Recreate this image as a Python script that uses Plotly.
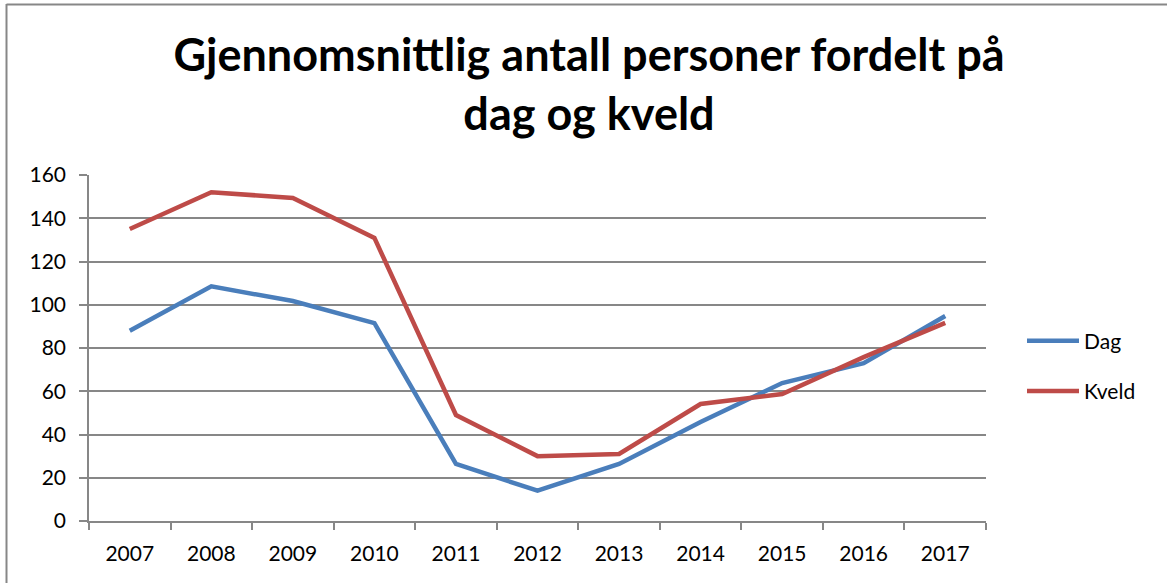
import plotly.graph_objects as go

years = ["2007", "2008", "2009", "2010", "2011", "2012", "2013", "2014", "2015", "2016", "2017"]
dag = [88, 108.5, 101.7, 91.5, 26.4, 14, 26.4, 45.8, 63.8, 73, 94.8]
kveld = [135, 152, 149.4, 130.9, 49, 30, 31, 54.1, 58.7, 75.8, 91.6]
y_ticks = [0, 20, 40, 60, 80, 100, 120, 140, 160]

W, H = 1167, 583
L, R, T, B = 89, 986, 175, 521
grid = "#878787"
font = "Lato"
fs = 21

fig = go.Figure()
fig.add_trace(go.Scatter(x=years, y=dag, mode="lines", name="Dag", legendgroup="a",
                         line=dict(color="#4A7EBB", width=4.5)))
fig.add_trace(go.Scatter(x=years, y=kveld, mode="lines", name="Kveld", legendgroup="b",
                         line=dict(color="#BE4B48", width=4.5)))

def px(x):
    return (x - L) / (R - L)

def py(y):
    return (B - y) / (B - T)

fig.update_layout(
    width=W, height=H,
    margin=dict(l=L, r=W - R, t=T, b=H - B, pad=0),
    paper_bgcolor="white", plot_bgcolor="white",
    font=dict(family=font, size=fs, color="black"),
    title=dict(text="<b>Gjennomsnittlig antall personer fordelt på<br>dag og kveld</b>",
               x=589 / W, xanchor="center", xref="container",
               y=1 - 71 / H, yanchor="top", yref="container",
               font=dict(family=font, size=45, color="black")),
    xaxis=dict(type="category", tickson="boundaries", ticks="outside", ticklen=7,
               tickcolor=grid, tickwidth=1.5, showline=True, linecolor=grid, linewidth=1.5,
               showgrid=False, range=[-0.5, 10.5], fixedrange=True,
               ticklabelstandoff=13, tickfont=dict(size=fs)),
    yaxis=dict(range=[0, 160], tickvals=y_ticks, ticks="outside", ticklen=8,
               tickcolor=grid, tickwidth=1.5, showline=True, linecolor=grid, linewidth=1.5,
               showgrid=True, gridcolor=grid, gridwidth=1.5, zeroline=False,
               ticklabelstandoff=9, tickfont=dict(size=fs)),
    legend=dict(x=px(1022), xanchor="left", y=py(366), yanchor="middle",
                tracegroupgap=20, itemwidth=52, font=dict(size=fs),
                bgcolor="rgba(0,0,0,0)"),
    showlegend=True,
    shapes=[
        dict(type="line", xref="paper", yref="paper", x0=px(6.5), x1=px(1170), y0=py(4.5), y1=py(4.5),
             line=dict(color="#878787", width=2)),
        dict(type="line", xref="paper", yref="paper", x0=px(6.5), x1=px(6.5), y0=py(4), y1=py(590),
             line=dict(color="#878787", width=2)),
    ],
)

fig.write_html("out.html", config={"displayModeBar": False},
               post_script="document.body.style.margin='0';")
